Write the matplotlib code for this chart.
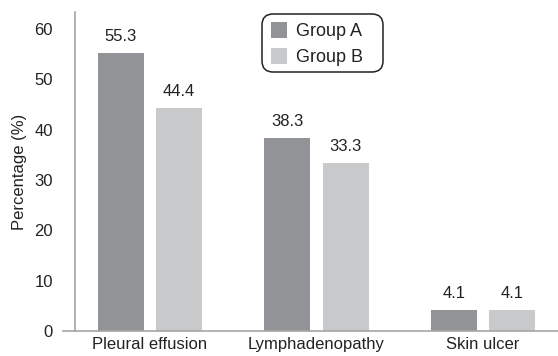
import matplotlib
matplotlib.use("Agg")
import matplotlib.pyplot as plt
from matplotlib.patches import FancyBboxPatch
import numpy as np

categories = ["Pleural effusion", "Lymphadenopathy", "Skin ulcer"]
group_a = [55.3, 38.3, 4.1]
group_b = [44.4, 33.3, 4.1]
series_names = ["Group A", "Group B"]
yticks = [0, 10, 20, 30, 40, 50, 60]

plt.rcParams['font.family'] = ['Liberation Sans', 'DejaVu Sans']

fig = plt.figure(figsize=(5.58, 3.56), dpi=100)
ax = fig.add_axes([0.1344, 0.0702, 0.8656, 0.896])

x = np.arange(len(categories))
w = 0.275
off = 0.175
ca, cb = "#929396", "#c8c9cb"
ba = ax.bar(x - off, group_a, w, color=ca, label=series_names[0])
bb = ax.bar(x + off, group_b, w, color=cb, label=series_names[1])
for bars, vals in ((ba, group_a), (bb, group_b)):
    for r, v in zip(bars, vals):
        ax.text(r.get_x() + r.get_width() / 2, v + 1.8, f"{v:.1f}",
                ha="center", va="bottom", fontsize=12, color="#222222")

ax.set_xlim(-0.45, 2.45)
ax.set_ylim(0, 63.4)
ax.set_yticks(yticks)
ax.set_xticks(x)
ax.set_xticklabels(categories)
ax.tick_params(axis="both", length=0, labelsize=12, colors="#222222")
ax.tick_params(axis="y", pad=16)
ax.tick_params(axis="x", pad=4)
for s in ("top", "right"):
    ax.spines[s].set_visible(False)
for s in ("left", "bottom"):
    ax.spines[s].set_color("#a6a6a6")
    ax.spines[s].set_linewidth(1.2)
ax.plot([-0.025, 0], [0, 0], transform=ax.transAxes, color="#a6a6a6", lw=1.2, clip_on=False)
ax.set_ylabel("Percentage (%)", fontsize=12, color="#222222", labelpad=5)

# legend frame (rounded box)
box = FancyBboxPatch((2.62, 2.84), 1.21, 0.58,
                     boxstyle="round,pad=0,rounding_size=0.11",
                     transform=fig.dpi_scale_trans, facecolor="white",
                     edgecolor="#222222", linewidth=1.1, zorder=5)
fig.patches.append(box)

leg = fig.legend(handles=[ba, bb], labels=series_names, loc="upper left",
                 bbox_to_anchor=(2.71, 3.34), bbox_transform=fig.dpi_scale_trans,
                 frameon=False, fontsize=13, handlelength=0.9, handleheight=0.95,
                 handletextpad=0.5, borderpad=0.0, labelspacing=0.45,
                 borderaxespad=0.0)
leg.set_zorder(6)
for t in leg.get_texts():
    t.set_color("#222222")

fig.savefig("out.png", dpi=100)
